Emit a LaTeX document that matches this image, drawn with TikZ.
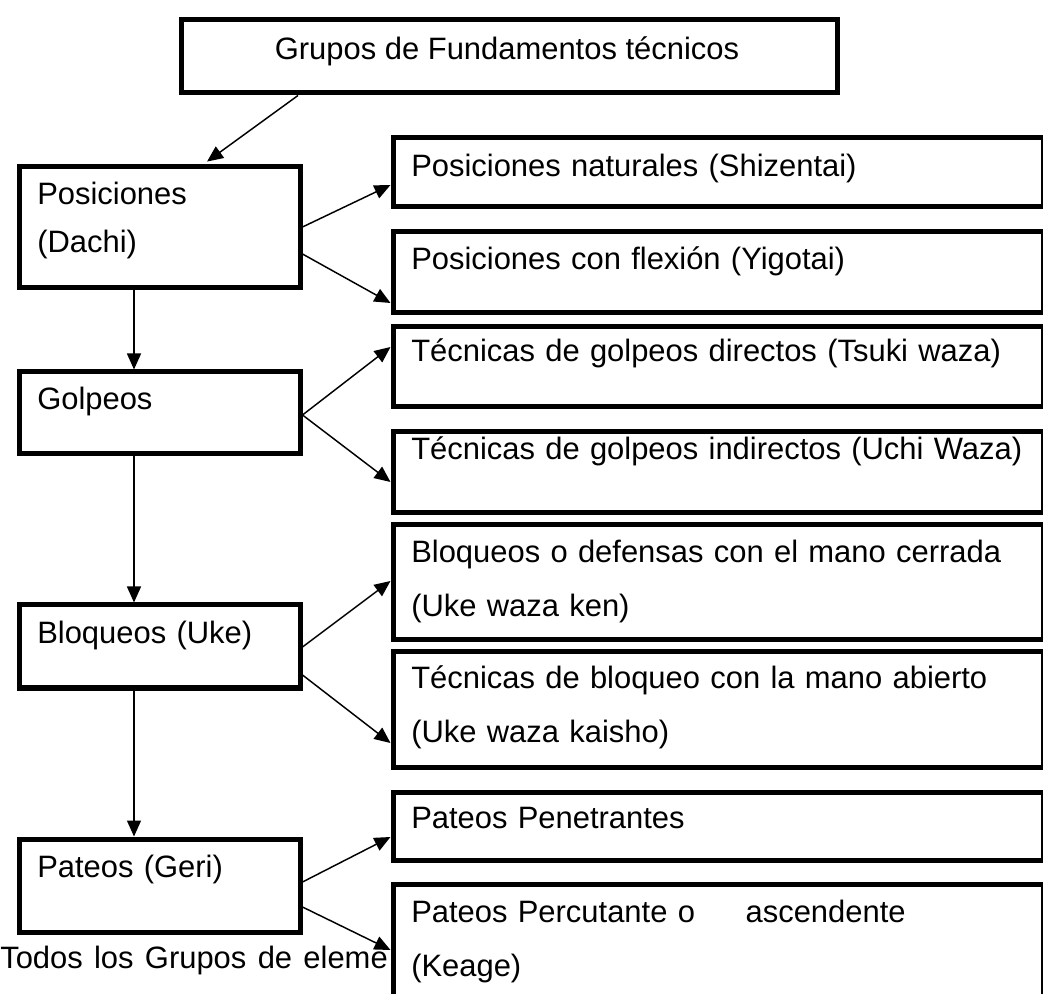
\documentclass[tikz,border=0pt]{standalone}
\usepackage{fontspec}
\setmainfont{Liberation Sans}
\usetikzlibrary{arrows.meta}

\tikzset{
  box/.style = {draw, line width=3.75pt, fill=white, inner sep=0pt, anchor=north west},
  sz/.style 2 args = {minimum width=#1*0.75pt, minimum height=#2*0.75pt},
  txt/.style = {inner sep=0pt, anchor=base west, text width=470pt, align=left,
                font=\fontsize{23.2}{40.5}\selectfont},
  ttl/.style = {inner sep=0pt, anchor=base, font=\fontsize{23.2}{40.5}\selectfont},
  conn/.style = {line width=1.1pt, ->, >={Triangle[length=12pt,width=10.5pt]}},
}

\begin{document}
\begin{tikzpicture}[x=0.75pt, y=-0.75pt]
        \useasboundingbox (0,0) rectangle (1043,994);
        \clip (0,0) rectangle (1043,994);

        % text that runs under the last box
        \node[txt] (todos) at (0,968) {\spaceskip=8.5pt Todos los Grupos de eleme};

        % top
        \node[box, sz={656}{73}] (grupos) at (178.5,17.5) {};
        \node[ttl] (t-grupos) at (507,60) {Grupos de Fundamentos técnicos};

        % left column
        \node[box, sz={281}{121}] (dachi) at (16.5,164.5) {};
        \node[box, sz={281}{82}] (golpeos) at (16.5,369.5) {};
        \node[box, sz={281}{83}] (uke) at (16.5,602.5) {};
        \node[box, sz={281}{93}] (geri) at (16.5,836.5) {};

        \node[txt] (t-dachi) at (37,205) {Posiciones\\[-4.5pt](Dachi)};
        \node[txt] (t-golpeos) at (37,410) {Golpeos};
        \node[txt] (t-uke) at (37,643) {Bloqueos (Uke)};
        \node[txt] (t-geri) at (37,877) {Pateos (Geri)};

        % right column
        \node[box, sz={650}{69}] (shizentai) at (390.5,135.5) {};
        \node[box, sz={650}{81}] (yigotai) at (390.5,229.5) {};
        \node[box, sz={650}{80}] (tsuki) at (390.5,324.5) {};
        \node[box, sz={650}{81}] (uchi) at (390.5,429.5) {};
        \node[box, sz={650}{115}] (ken) at (390.5,522.5) {};
        \node[box, sz={650}{115}] (kaisho) at (390.5,649.5) {};
        \node[box, sz={650}{68}] (penetr) at (390.5,789.5) {};
        \node[box, sz={650}{150}] (keage) at (390.5,881.5) {};

        \node[txt] (t-shizentai) at (411,177) {Posiciones naturales (Shizentai)};
        \node[txt] (t-yigotai) at (411,270) {Posiciones con flexión (Yigotai)};
        \node[txt] (t-tsuki) at (411,362) {Técnicas de golpeos directos (Tsuki waza)};
        \node[txt] (t-uchi) at (411,460) {Técnicas de golpeos indirectos (Uchi Waza)};
        \node[txt] (t-ken) at (411,563) {Bloqueos o defensas con el mano cerrada\\(Uke waza ken)};
        \node[txt] (t-kaisho) at (411,688) {Técnicas de bloqueo con la mano abierto\\(Uke waza kaisho)};
        \node[txt] (t-penetr) at (411,828) {Pateos Penetrantes};
        \node[txt] (t-keage) at (411,922) {Pateos Percutante o\hspace{38pt}ascendente\\(Keage)};

        % arrows
        \draw[conn, shorten >=3.75pt] (grupos.south -| 298,0) -- (dachi.north -| 203,0);

        \draw[conn] (dachi.south -| 134,0) -- (golpeos.north -| 134,0);
        \draw[conn] (golpeos.south -| 134,0) -- (uke.north -| 134,0);
        \draw[conn] (uke.south -| 134,0) -- (geri.north -| 134,0);

        \draw[conn] (dachi.east |- 0,227) -- (shizentai.west |- 0,185);
        \draw[conn] (dachi.east |- 0,254) -- (yigotai.west |- 0,303);
        \draw[conn] (golpeos.east |- 0,415) -- (tsuki.west |- 0,347);
        \draw[conn] (golpeos.east |- 0,415) -- (uchi.west |- 0,482);
        \draw[conn] (uke.east |- 0,647) -- (ken.west |- 0,581);
        \draw[conn] (uke.east |- 0,675) -- (kaisho.west |- 0,743);
        \draw[conn] (geri.east |- 0,882) -- (penetr.west |- 0,837);
        \draw[conn] (geri.east |- 0,907) -- (keage.west |- 0,950);
\end{tikzpicture}
\end{document}
